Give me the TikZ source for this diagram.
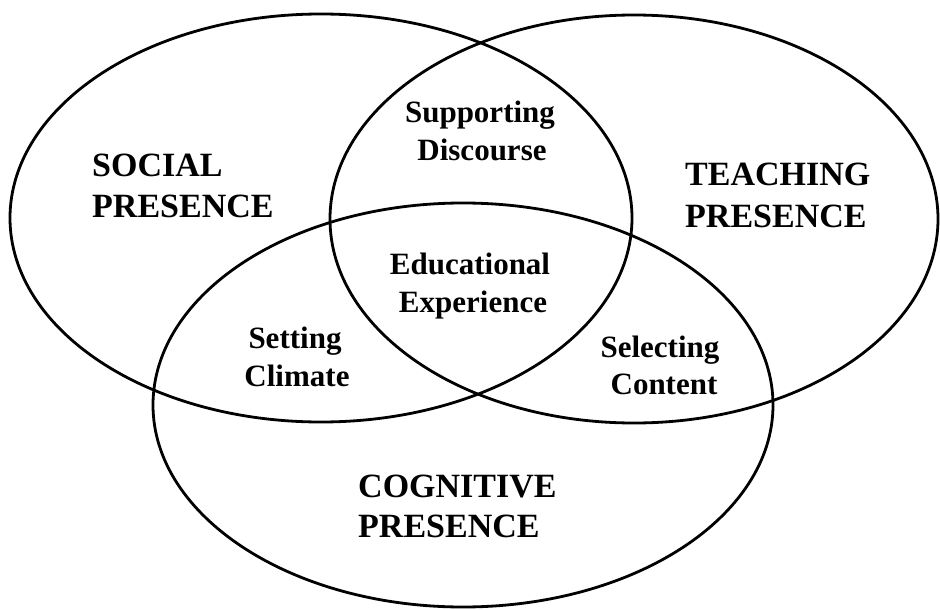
\documentclass[tikz,border=0pt]{standalone}
\usepackage{fontspec}
\setmainfont{Liberation Serif}
\usetikzlibrary{shapes.geometric}
\begin{document}
\begin{tikzpicture}[x=1pt,y=-1pt,
  ring/.style={draw=black, line width=2.8pt, ellipse, inner sep=0pt, outer sep=0pt},
  big/.style={inner sep=0pt, font=\fontsize{34}{40}\selectfont\bfseries},
  small/.style={inner sep=0pt, font=\fontsize{31}{37}\selectfont\bfseries}]
\useasboundingbox[fill=white] (0,0) rectangle (940,610);
% circles
\node[ring, minimum width=622pt, minimum height=408pt] (social) at (321,218) {};
\node[ring, minimum width=608pt, minimum height=408pt] (teaching) at (634,219) {};
\node[ring, minimum width=620pt, minimum height=404pt] (cognitive) at (463,405) {};
% main labels
\node[big, anchor=base west] (soc1) at (92,176) {SOCIAL};
\node[big, anchor=base west] (soc2) at (92,217) {PRESENCE};
\node[big, anchor=base west] (tea1) at (685,185) {TEACHING};
\node[big, anchor=base west] (tea2) at (685,227) {PRESENCE};
\node[big, anchor=base west] (cog1) at (358,497) {COGNITIVE};
\node[big, anchor=base west] (cog2) at (358,537) {PRESENCE};
% overlap labels
\node[small, anchor=base] (sup1) at (480,122) {Supporting};
\node[small, anchor=base] (sup2) at (482,160) {Discourse};
\node[small, anchor=base] (edu1) at (470,274) {Educational};
\node[small, anchor=base] (edu2) at (473,312) {Experience};
\node[small, anchor=base] (set1) at (295,348) {Setting};
\node[small, anchor=base] (set2) at (297,386) {Climate};
\node[small, anchor=base] (sel1) at (660,357) {Selecting};
\node[small, anchor=base] (sel2) at (664,394) {Content};
\end{tikzpicture}
\end{document}
